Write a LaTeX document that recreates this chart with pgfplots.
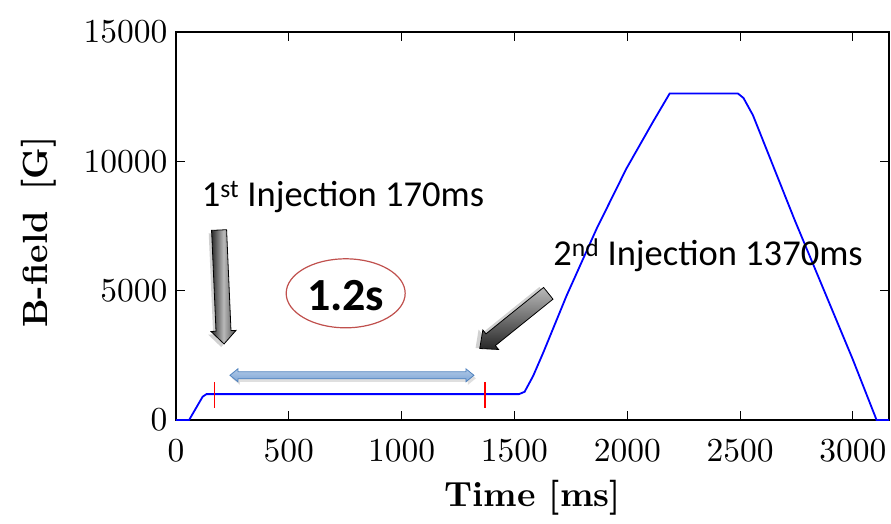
\documentclass[border=0pt]{standalone}
\usepackage{fontspec}
\setmainfont{lmroman10-regular.otf}[BoldFont=lmroman10-bold.otf]
\usepackage{pgfplots}
\pgfplotsset{compat=1.18}
\newfontfamily\calib{Carlito}
\definecolor{curveblue}{RGB}{0,0,255}
\definecolor{ellred}{RGB}{192,80,77}
\definecolor{arrfill}{RGB}{125,165,214}
\definecolor{arrdraw}{RGB}{80,130,190}
\begin{document}
\begin{tikzpicture}
\path[use as bounding box] (-176pt,-103pt) rectangle (715pt,420pt);
\begin{axis}[
  scale only axis,
  width=713pt, height=388pt,
  xmin=0, xmax=3160, ymin=0, ymax=15000,
  xtick={0,500,1000,1500,2000,2500,3000},
  ytick={0,5000,10000,15000},
  scaled ticks=false,
  /pgf/number format/1000 sep={},
  /pgf/number format/assume math mode=true,
  tick align=inside,
  major tick length=9pt,
  axis line style={line width=1.2pt},
  every tick/.style={line width=1pt, black},
  tick label style={font=\fontsize{33.5}{40}\selectfont},
  xticklabel style={yshift=-16pt},
  yticklabel style={xshift=-5pt},
  xlabel={\textbf{Time [ms]}},
  ylabel={\textbf{B-field\hspace{0.6em}[G]}},
  label style={font=\fontsize{35}{42}\selectfont},
  xlabel style={yshift=-11pt},
  ylabel style={yshift=21pt, xshift=-6pt},
  clip=false,
]
\addplot[curveblue, line width=1.8pt] coordinates {
  (0,0) (58,0) (118,900) (135,1000) (1520,1000) (1545,1090) (1583,1705)
  (1628,2612) (1731,4806) (1864,7391) (1996,9717) (2114,11527) (2188,12624)
  (2490,12624) (2515,12450) (2557,11783) (2741,7752) (2999,2353) (3105,0) (3160,0)
};
\addplot[red, line width=1.4pt] coordinates {(170,480) (170,1480)};
\addplot[red, line width=1.4pt] coordinates {(1370,480) (1370,1480)};
\coordinate (t1) at (axis cs:114,8245);
\coordinate (t2) at (axis cs:1672,5965);
\coordinate (a1) at (axis cs:191,7344);
\coordinate (a2) at (axis cs:1650,4898);
\coordinate (b1) at (axis cs:239,1728);
\coordinate (ec) at (axis cs:752,4898);
\end{axis}
% annotations
\node[anchor=base west, inner sep=0pt, font=\calib\fontsize{36.5}{40}\selectfont] at (t1) {1\textsuperscript{st} Injection 170ms};
\node[anchor=base west, inner sep=0pt, font=\calib\fontsize{36.5}{40}\selectfont] at (t2) {2\textsuperscript{nd} Injection 1370ms};
% grey block arrows
\begin{scope}[shift={(a1)}, rotate=-87.5]
  \fill[black!30, opacity=0.6, shift={(3pt,-3pt)}] (0,-7.5pt) -- (101pt,-7.5pt) -- (101pt,-12.5pt) -- (114pt,0) -- (101pt,12.5pt) -- (101pt,7.5pt) -- (0,7.5pt) -- cycle;
  \draw[line width=0.8pt, left color=black!85, right color=black!70, middle color=gray!55]
    (0,-7.5pt) -- (101pt,-7.5pt) -- (101pt,-12.5pt) -- (114pt,0) -- (101pt,12.5pt) -- (101pt,7.5pt) -- (0,7.5pt) -- cycle;
\end{scope}
\begin{scope}[shift={(a2)}, rotate=-141.15]
  \fill[black!30, opacity=0.6, shift={(3pt,-3pt)}] (0,-7.5pt) -- (74pt,-7.5pt) -- (74pt,-12.5pt) -- (88pt,0) -- (74pt,12.5pt) -- (74pt,7.5pt) -- (0,7.5pt) -- cycle;
  \draw[line width=0.8pt, top color=gray!55, bottom color=black!85]
    (0,-7.5pt) -- (74pt,-7.5pt) -- (74pt,-12.5pt) -- (88pt,0) -- (74pt,12.5pt) -- (74pt,7.5pt) -- (0,7.5pt) -- cycle;
\end{scope}
% blue double arrow
\begin{scope}[shift={(b1)}]
  \fill[black!25, opacity=0.5, shift={(2pt,-3pt)}] (0,0) -- (8pt,6.5pt) -- (8pt,3.5pt) -- (236pt,3.5pt) -- (236pt,6.5pt) -- (244pt,0) -- (236pt,-6.5pt) -- (236pt,-3.5pt) -- (8pt,-3.5pt) -- (8pt,-6.5pt) -- cycle;
  \draw[arrdraw, line width=0.8pt, top color=arrfill!60, bottom color=arrfill]
    (0,0) -- (8pt,6.5pt) -- (8pt,3.5pt) -- (236pt,3.5pt) -- (236pt,6.5pt) -- (244pt,0) -- (236pt,-6.5pt) -- (236pt,-3.5pt) -- (8pt,-3.5pt) -- (8pt,-6.5pt) -- cycle;
\end{scope}
% ellipse with 1.2s
\draw[ellred, line width=1.2pt, fill=white] (ec) ellipse [x radius=59.5pt, y radius=34.5pt];
\node[font=\calib\bfseries\fontsize{46}{50}\selectfont, inner sep=0pt, yshift=-2pt] at (ec) {1.2s};
\end{tikzpicture}
\end{document}
